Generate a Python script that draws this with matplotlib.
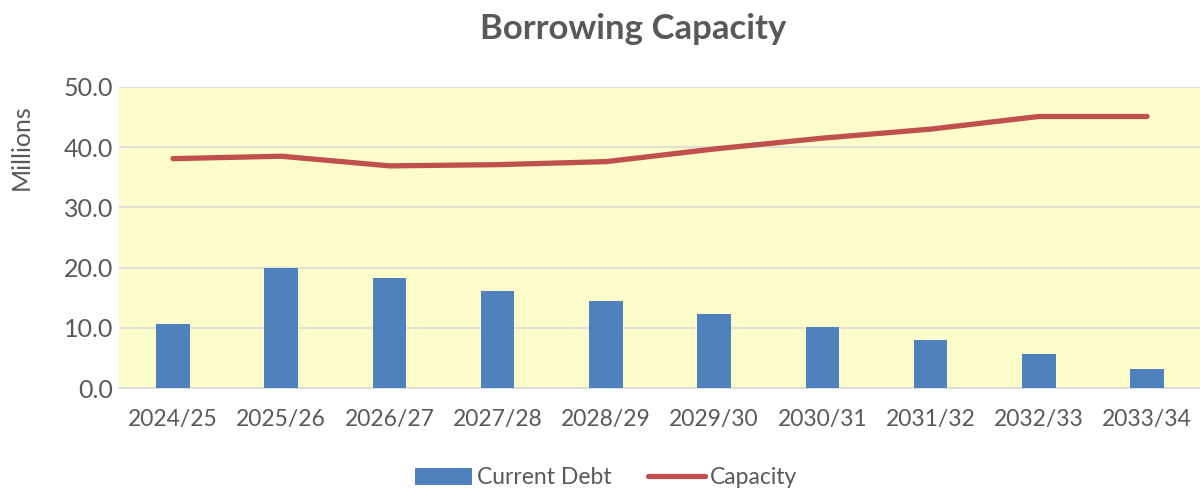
import numpy as np
import matplotlib.pyplot as plt

# ---------------- DATA ----------------
years = ["2024/25", "2025/26", "2026/27", "2027/28", "2028/29",
         "2029/30", "2030/31", "2031/32", "2032/33", "2033/34"]
current_debt = [10.7, 20.0, 18.2, 16.1, 14.4, 12.3, 10.2, 8.0, 5.7, 3.2]
capacity = [38.1, 38.5, 36.9, 37.1, 37.6, 39.7, 41.5, 43.0, 45.1, 45.1]
y_ticks = [0, 10, 20, 30, 40, 50]

# ---------------- STYLE ----------------
plt.rcParams["font.family"] = ["Lato", "DejaVu Sans"]
TEXT = "#595959"
BAR = "#4F81BD"
LINE = "#C0504D"

fig = plt.figure(figsize=(12, 4.9), dpi=100)
ax = fig.add_axes([0.099, 0.208, 0.902, 0.6145])
ax.set_facecolor("#FDFDCC")

x = np.arange(len(years))
bars = ax.bar(x, current_debt, width=0.31, color=BAR, label="Current Debt", zorder=3)
line, = ax.plot(x, capacity, color=LINE, lw=3.8, solid_capstyle="round",
                label="Capacity", zorder=4)

ax.set_xlim(-0.5, len(years) - 0.5)
ax.set_ylim(0, 50)
ax.set_yticks(y_ticks)
ax.set_yticklabels([f"{v:.1f}" for v in y_ticks])
ax.set_xticks(x)
ax.set_xticklabels(years)
ax.tick_params(axis="both", length=0, colors=TEXT)
ax.tick_params(axis="x", labelsize=16.5, pad=15)
ax.tick_params(axis="y", labelsize=18, pad=4)

ax.grid(axis="y", color="#D9D9D9", lw=1.2, zorder=1)
for side in ["top", "right", "left"]:
    ax.spines[side].set_visible(False)
ax.spines["bottom"].set_color("#D9D9D9")
ax.spines["bottom"].set_linewidth(1.2)

fig.text(0.018, 0.70, "Millions", rotation=90, fontsize=18, color=TEXT,
         ha="center", va="center")
fig.text(0.528, 0.94, "Borrowing Capacity", fontsize=25, fontweight="bold",
         color=TEXT, ha="center", va="center")

leg = fig.legend([bars, line], ["Current Debt", "Capacity"], loc="center",
                 bbox_to_anchor=(0.505, 0.025), ncol=2, frameon=False,
                 fontsize=16.5, handlelength=2.5, handleheight=0.8,
                 handletextpad=0.2, columnspacing=1.6)
for t in leg.get_texts():
    t.set_color(TEXT)

fig.savefig("out.png", dpi=100)
